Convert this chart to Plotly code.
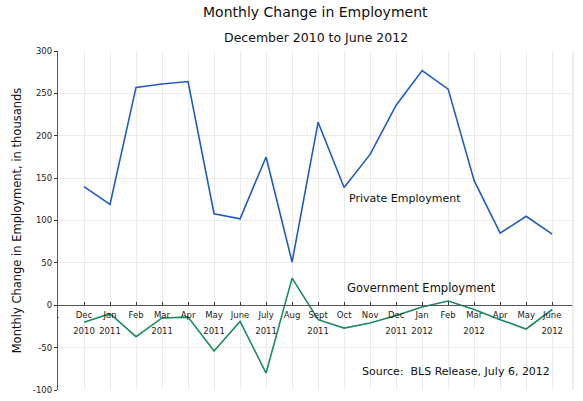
import plotly.graph_objects as go

# month slots: index 0 is the blank "." slot at the y axis
months = [".", "Dec", "Jan", "Feb", "Mar", "Apr", "May", "June", "July", "Aug",
          "Sept", "Oct", "Nov", "Dec", "Jan", "Feb", "Mar", "Apr", "May", "June"]
years = ["", "2010", "2011", "", "2011", "", "2011", "", "2011", "",
         "2011", "", "", "2011", "2012", "", "2012", "", "", "2012"]

# thousands of jobs, Dec 2010 .. June 2012
private = [140, 119, 257, 261, 264, 108, 102, 175, 51, 216,
           139, 178, 236, 277, 255, 147, 85, 105, 84]
government = [-20, -10, -37, -15, -14, -54, -19, -80, 32, -17,
              -27, -21, -12, -2, 5, -5, -17, -28, -5]

y_ticks = [300, 250, 200, 150, 100, 50, 0, -50, -100]

slots = list(range(len(months)))
x_data = slots[1:]

FONT = "DejaVu Sans"
BLUE = "#1f5cc2"
GREEN = "#1b8a5c"

fig = go.Figure()
fig.add_trace(go.Scatter(x=x_data, y=private, mode="lines",
                         line=dict(color=BLUE, width=1.6), showlegend=False))
fig.add_trace(go.Scatter(x=x_data, y=government, mode="lines",
                         line=dict(color=GREEN, width=1.6), showlegend=False))
# invisible trace so the year labels axis exists
fig.add_trace(go.Scatter(x=[0], y=[0], xaxis="x2", mode="markers",
                         marker=dict(opacity=0), showlegend=False, hoverinfo="skip"))

y_min, y_max = -100, 300
zero_pos = (0 - y_min) / (y_max - y_min)

fig.update_layout(
    width=583, height=401,
    margin=dict(l=58, r=10, t=51, b=11),
    paper_bgcolor="white", plot_bgcolor="white",
    font=dict(family=FONT, color="#222"),
    xaxis=dict(range=[0, 19.8], tickvals=slots, ticktext=months,
               showgrid=True, gridcolor="#ebebeb", gridwidth=1.3,
               anchor="free", position=zero_pos, automargin=False,
               showline=True, linecolor="#555", linewidth=1,
               ticks="inside", ticklen=3, tickcolor="#333",
               tickfont=dict(size=8.5, color="#222"), ticklabelstandoff=2,
               zeroline=False, fixedrange=True),
    xaxis2=dict(range=[0, 19.8], overlaying="x", anchor="free", position=zero_pos,
                tickvals=slots, ticktext=years, showgrid=False, showline=False,
                ticks="", side="bottom", tickfont=dict(size=8.5, color="#222"),
                ticklabelstandoff=19, zeroline=False, automargin=False),
    yaxis=dict(range=[y_min, y_max], tickvals=y_ticks,
               ticktext=[str(v) for v in y_ticks], automargin=False,
               showgrid=True, gridcolor="#ebebeb", gridwidth=1.3,
               showline=True, linecolor="#555", linewidth=1.3,
               ticks="outside", ticklen=3, tickcolor="#333",
               tickfont=dict(size=8.5, color="#222"), zeroline=False,
               title=dict(text="Monthly Change in Employment, in thousands",
                          font=dict(size=11.5, color="#111"), standoff=8)),
    shapes=[dict(type="line", xref="paper", yref="paper", x0=1, x1=1, y0=0, y1=1,
                 line=dict(color="#e3e3e3", width=1.3))],
    annotations=[
        dict(text="Monthly Change in Employment", xref="paper", yref="paper",
             x=0.5, y=1.0, yshift=39, showarrow=False, xanchor="center",
             yanchor="middle", font=dict(size=14, color="#111")),
        dict(text="December 2010 to June 2012", xref="paper", yref="paper",
             x=0.5, y=1.0, yshift=14, showarrow=False, xanchor="center",
             yanchor="middle", font=dict(size=12.5, color="#111")),
        dict(text="Private Employment", x=11.1, y=126, showarrow=False,
             xanchor="left", yanchor="middle", font=dict(size=11, color="#111")),
        dict(text="Government Employment", x=11.05, y=20, showarrow=False,
             xanchor="left", yanchor="middle", font=dict(size=11.5, color="#111")),
        dict(text="Source:  BLS Release, July 6, 2012", x=11.6, y=-78,
             showarrow=False, xanchor="left", yanchor="middle",
             font=dict(size=11, color="#111")),
    ],
)

# drop the browser's default 8px body margin so the figure fills the window
fig.write_html("out.html", config={"displayModeBar": False},
               post_script="document.body.style.margin = '0px';")
